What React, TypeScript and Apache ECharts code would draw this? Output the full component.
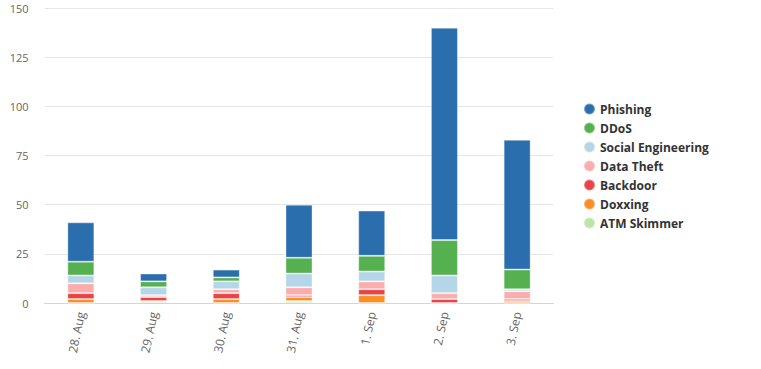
import React, { useEffect, useRef } from "react";
import * as echarts from "echarts";

const categories = ["28. Aug", "29. Aug", "30. Aug", "31. Aug", "1. Sep", "2. Sep", "3. Sep"];
const seriesNames = ["Phishing", "DDoS", "Social Engineering", "Data Theft", "Backdoor", "Doxxing", "ATM Skimmer"];
const colors = ["#2b6ead", "#55b04f", "#b5d6e8", "#fbadad", "#e84345", "#fa8f24", "#bde5a5"];

const phishing = [20, 4, 4, 27, 23, 108, 66];
const ddos = [7, 3, 2, 8, 8, 18, 10];
const socialEngineering = [4, 4, 4, 7, 5, 9, 1];
const dataTheft = [5, 1, 2, 4, 4, 3, 4];
const backdoor = [3, 2, 3, 1, 3, 2, 1];
const doxxing = [2, 0, 2, 2, 4, 0, 1];
const atmSkimmer = [0, 1, 0, 1, 0, 0, 0];

const yTicks = [0, 25, 50, 75, 100, 125, 150];

export default function App() {
  const ref = useRef<HTMLDivElement>(null);
  useEffect(() => {
    if (!ref.current) return;
    const chart = echarts.init(ref.current, undefined, { renderer: "svg" });
    const stackOrder = [atmSkimmer, doxxing, backdoor, dataTheft, socialEngineering, ddos, phishing];
    const stackNames = [...seriesNames].reverse();
    const stackColors = [...colors].reverse();
    const series = stackOrder.map((d, i) => ({
      name: stackNames[i],
      type: "bar",
      stack: "total",
      data: d,
      barWidth: 27,
      itemStyle: { color: stackColors[i], borderColor: "rgba(255,255,255,0.35)", borderWidth: 1 },
      emphasis: { disabled: true },
    }));
    chart.setOption({
      animation: false,
      textStyle: { fontFamily: "Open Sans, DejaVu Sans, sans-serif" },
      grid: { left: 44.5, right: 207.5, top: 8, bottom: 66 },
      legend: {
        orient: "vertical",
        left: 578,
        top: 97,
        icon: "circle",
        itemWidth: 11,
        itemHeight: 11,
        itemGap: 5,
        data: seriesNames,
        textStyle: { fontWeight: "bold", fontSize: 12, color: "#333", lineHeight: 14, fontFamily: "Open Sans, sans-serif" },
      },
      xAxis: {
        type: "category",
        data: categories,
        axisLine: { lineStyle: { color: "#ccd6eb" } },
        axisTick: { alignWithLabel: true, length: 10, lineStyle: { color: "#ccd6eb" } },
        axisLabel: { rotate: 78, color: "#666", fontSize: 12, margin: 9 },
      },
      yAxis: {
        type: "value",
        min: 0,
        max: 150,
        interval: 25,
        axisLine: { show: false },
        axisTick: { show: false },
        axisLabel: { color: "#666", fontSize: 11, margin: 16, customValues: yTicks },
        splitLine: { lineStyle: { color: "#e6e6e6" } },
      },
      series,
    });
    return () => chart.dispose();
  }, []);
  return <div ref={ref} style={{ width: 761, height: 369, position: "absolute", left: 0, top: 0 }} />;
}
